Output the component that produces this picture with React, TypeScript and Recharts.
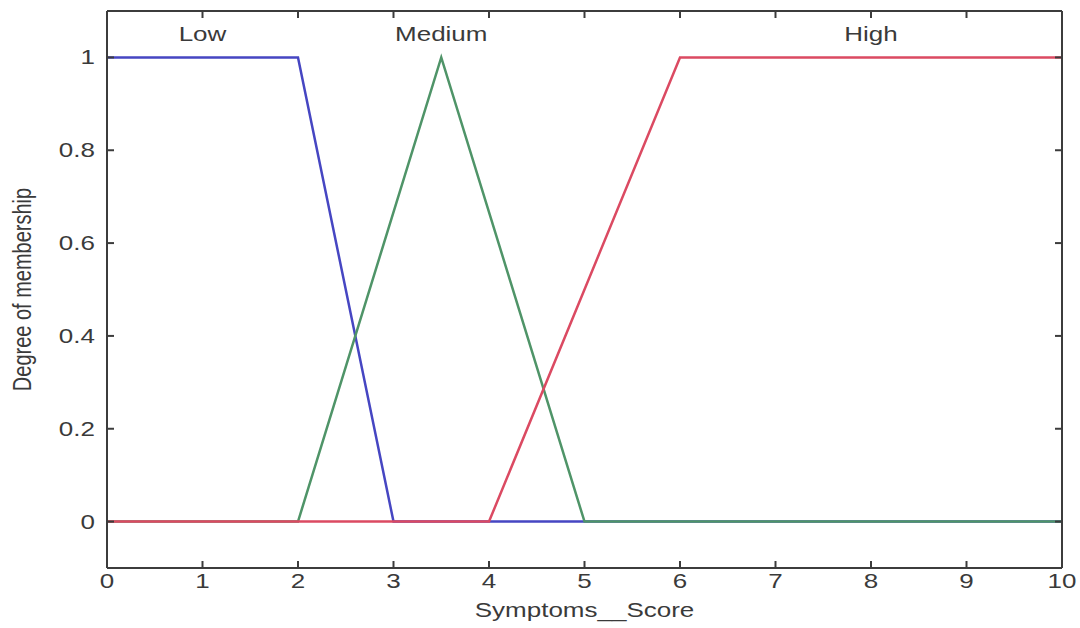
import {
  Line,
  LineChart,
  ReferenceDot,
  XAxis,
  YAxis,
  Label,
} from "recharts";

// membership functions for Symptoms__Score, breakpoints only
const lowPoints = [
  { x: 0, y: 1 },
  { x: 2, y: 1 },
  { x: 3, y: 0 },
  { x: 10, y: 0 },
];
const mediumPoints = [
  { x: 0, y: 0 },
  { x: 2, y: 0 },
  { x: 3.5, y: 1 },
  { x: 5, y: 0 },
  { x: 10, y: 0 },
];
const highPoints = [
  { x: 0, y: 0 },
  { x: 4, y: 0 },
  { x: 6, y: 1 },
  { x: 10, y: 1 },
];

const mfNames = ["Low", "Medium", "High"];
const mfLabelX = [1, 3.5, 8];
const mfLabelY = 1.05;

const xTicks = [0, 1, 2, 3, 4, 5, 6, 7, 8, 9, 10];
const yTicks = [0, 0.2, 0.4, 0.6, 0.8, 1];
const xDomain = [0, 10];
const yDomain = [-0.1, 1.1];

const FONT = '"Liberation Sans", Arial, sans-serif';
const TEXT = "#3a3a3a";
const AXIS = "#3c3c3c";
const STRETCH = 1.3;
const TICK_LEN = 7;

const BottomTick = (props: any) => {
  const { x, y, payload } = props;
  return (
    <g>
      <line x1={x} y1={y} x2={x} y2={y - TICK_LEN} stroke={AXIS} strokeWidth={2} />
      <text
        transform={`translate(${x},${y + 20}) scale(${STRETCH},1)`}
        textAnchor="middle"
        fontSize={20}
        fontFamily={FONT}
        fill={TEXT}
      >
        {payload.value}
      </text>
    </g>
  );
};

const TopTick = (props: any) => {
  const { x, y } = props;
  return <line x1={x} y1={y} x2={x} y2={y + TICK_LEN} stroke={AXIS} strokeWidth={2} />;
};

const LeftTick = (props: any) => {
  const { x, y, payload } = props;
  return (
    <g>
      <line x1={x} y1={y} x2={x + TICK_LEN} y2={y} stroke={AXIS} strokeWidth={2} />
      <text
        transform={`translate(${x - 12},${y + 7}) scale(${STRETCH},1)`}
        textAnchor="end"
        fontSize={20}
        fontFamily={FONT}
        fill={TEXT}
      >
        {payload.value}
      </text>
    </g>
  );
};

const RightTick = (props: any) => {
  const { x, y } = props;
  return <line x1={x} y1={y} x2={x - TICK_LEN} y2={y} stroke={AXIS} strokeWidth={2} />;
};

export default function App() {
  return (
    <div style={{ position: "fixed", left: 0, top: 0, background: "#fff" }}>
      <LineChart width={1080} height={628} margin={{ top: 10, right: 17, left: 0, bottom: 0 }}>
        <XAxis
          dataKey="x"
          type="number"
          domain={xDomain}
          ticks={xTicks}
          allowDataOverflow
          height={60}
          tickSize={0}
          tickMargin={0}
          tickLine={false}
          axisLine={{ stroke: AXIS, strokeWidth: 2 }}
          tick={<BottomTick />}
          interval={0}
        >
          <Label
            content={({ viewBox }: any) => (
              <text
                transform={`translate(${viewBox.x + viewBox.width / 2},${viewBox.y + 49}) scale(${STRETCH},1)`}
                textAnchor="middle"
                fontSize={20}
                fontFamily={FONT}
                fill={TEXT}
              >
                Symptoms__Score
              </text>
            )}
          />
        </XAxis>
        {/* mirrored axes close the box; the High curve is plotted on them */}
        <XAxis
          xAxisId="top"
          orientation="top"
          dataKey="x"
          type="number"
          domain={xDomain}
          ticks={xTicks}
          allowDataOverflow
          height={1}
          tickSize={0}
          tickMargin={0}
          tickLine={false}
          axisLine={{ stroke: AXIS, strokeWidth: 2 }}
          tick={<TopTick />}
          interval={0}
        />
        <YAxis
          type="number"
          domain={yDomain}
          ticks={yTicks}
          allowDataOverflow
          width={107}
          tickSize={0}
          tickMargin={0}
          tickLine={false}
          axisLine={{ stroke: AXIS, strokeWidth: 2 }}
          tick={<LeftTick />}
          interval={0}
        >
          <Label
            content={({ viewBox }: any) => (
              <text
                transform={`translate(22,${viewBox.y + viewBox.height / 2}) scale(${STRETCH},1) rotate(-90)`}
                textAnchor="middle"
                dominantBaseline="central"
                fontSize={20}
                fontFamily={FONT}
                fill={TEXT}
              >
                Degree of membership
              </text>
            )}
          />
        </YAxis>
        <YAxis
          yAxisId="right"
          orientation="right"
          type="number"
          domain={yDomain}
          ticks={yTicks}
          allowDataOverflow
          width={1}
          tickSize={0}
          tickMargin={0}
          tickLine={false}
          axisLine={{ stroke: AXIS, strokeWidth: 2 }}
          tick={<RightTick />}
          interval={0}
        />

        <Line data={lowPoints} dataKey="y" stroke="#4646c2" strokeWidth={2.5} dot={false} isAnimationActive={false} />
        <Line data={mediumPoints} dataKey="y" stroke="#4f9468" strokeWidth={2.5} dot={false} isAnimationActive={false} />
        <Line
          data={highPoints}
          dataKey="y"
          xAxisId="top"
          yAxisId="right"
          stroke="#db4a62"
          strokeWidth={2.5}
          dot={false}
          isAnimationActive={false}
        />

        {mfNames.map((name, i) => (
          <ReferenceDot
            key={name}
            x={mfLabelX[i]}
            y={mfLabelY}
            r={0}
            ifOverflow="visible"
            label={{
              content: ({ viewBox }: any) => (
                <text
                  transform={`translate(${viewBox.x + viewBox.width / 2},${viewBox.y + viewBox.height / 2 + 7}) scale(${STRETCH},1)`}
                  textAnchor="middle"
                  fontSize={20}
                  fontFamily={FONT}
                  fill={TEXT}
                >
                  {name}
                </text>
              ),
            }}
          />
        ))}
      </LineChart>
    </div>
  );
}
